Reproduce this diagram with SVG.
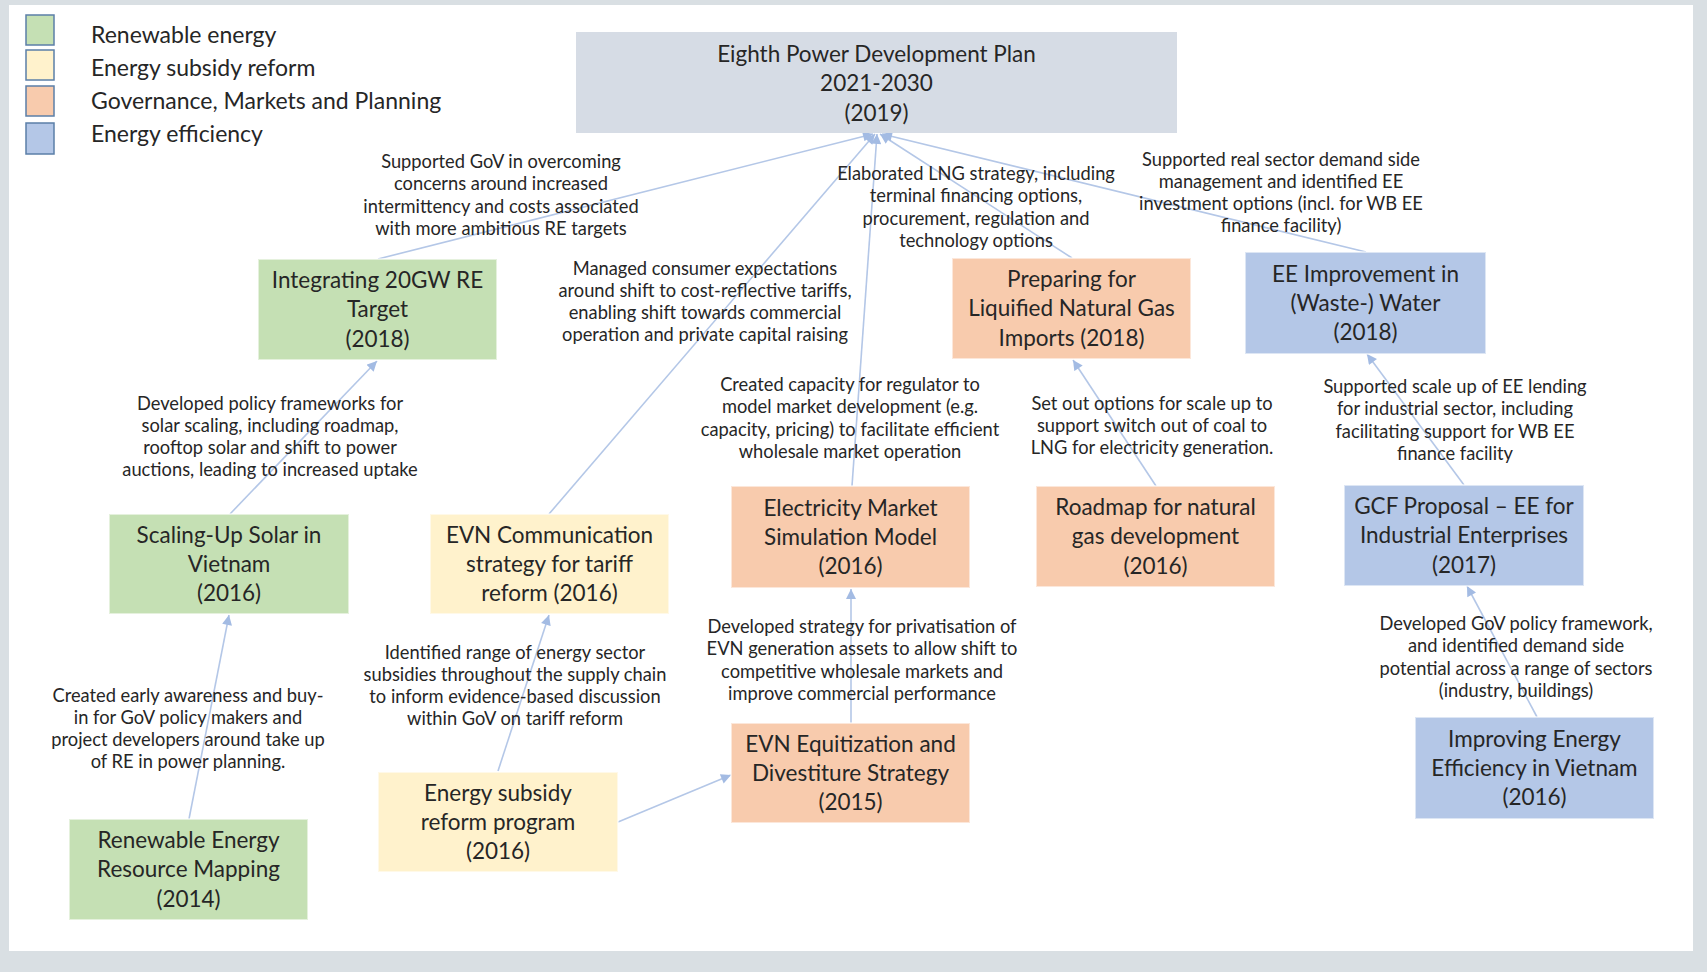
<svg xmlns="http://www.w3.org/2000/svg" width="1707" height="972" viewBox="0 0 1707 972">
<defs>
<style>
.nt{font-family:Lato,"Open Sans","Liberation Sans",sans-serif;font-size:22.5px;fill:#262626;text-anchor:middle}
.lt{font-family:Lato,"Open Sans","Liberation Sans",sans-serif;font-size:18.3px;fill:#262626;text-anchor:middle}
.lg{font-family:Lato,"Open Sans","Liberation Sans",sans-serif;font-size:23px;fill:#262626}
.box{stroke:#ffffff;stroke-opacity:0.55;stroke-width:2}
.sq{stroke:#5b7fa8;stroke-width:1.5}
.re{fill:#c5e0b4}.es{fill:#fff2cc}.gm{fill:#f8cbad}.ee{fill:#b4c7e7}.top{fill:#d6dce5}
.c{stroke:#b4c7e7;stroke-width:1.6;fill:none;marker-end:url(#ah)}
</style>
<marker id="ah" viewBox="0 0 10 10" refX="10" refY="5" markerWidth="11" markerHeight="10" markerUnits="userSpaceOnUse" orient="auto">
<path d="M0,0 L10,5 L0,10 z" fill="#a3bbe3"/>
</marker>
</defs>
<rect x="0" y="0" width="1707" height="972" fill="#d9dfe3"/>
<rect x="9" y="5" width="1684" height="946" fill="#ffffff"/>

<g id="legend">
<rect class="sq re" x="26" y="15" width="28" height="30"/>
<rect class="sq es" x="26" y="50" width="28" height="30"/>
<rect class="sq gm" x="26" y="86" width="28" height="30"/>
<rect class="sq ee" x="26" y="123" width="28" height="31"/>
<text class="lg" x="91" y="43">Renewable energy</text>
<text class="lg" x="91" y="76">Energy subsidy reform</text>
<text class="lg" x="91" y="109">Governance, Markets and Planning</text>
<text class="lg" x="91" y="142">Energy efficiency</text>
</g>

<g id="connectors">
<line class="c" x1="378" y1="259" x2="873" y2="134"/>
<line class="c" x1="549" y1="514" x2="875" y2="134"/>
<line class="c" x1="852" y1="486" x2="877" y2="134"/>
<line class="c" x1="1072" y1="258" x2="880" y2="134"/>
<line class="c" x1="1366" y1="252" x2="882" y2="134"/>
<line class="c" x1="230" y1="514" x2="377" y2="361"/>
<line class="c" x1="189" y1="819" x2="229" y2="615"/>
<line class="c" x1="498" y1="771" x2="549" y2="615"/>
<line class="c" x1="618" y1="822" x2="731" y2="775"/>
<line class="c" x1="851" y1="723" x2="851" y2="589"/>
<line class="c" x1="1156" y1="486" x2="1073" y2="360"/>
<line class="c" x1="1464" y1="485" x2="1367" y2="354"/>
<line class="c" x1="1537" y1="717" x2="1467" y2="586"/>
</g>

<g id="labels">
<text class="lt" x="501" y="168"><tspan x="501">Supported GoV in overcoming</tspan><tspan x="501" dy="22.3">concerns around increased</tspan><tspan x="501" dy="22.3">intermittency and costs associated</tspan><tspan x="501" dy="22.3">with more ambitious RE targets</tspan></text>
<text class="lt" x="705" y="274.5"><tspan x="705">Managed consumer expectations</tspan><tspan x="705" dy="22.3">around shift to cost-reflective tariffs,</tspan><tspan x="705" dy="22.3">enabling shift towards commercial</tspan><tspan x="705" dy="22.3">operation and private capital raising</tspan></text>
<text class="lt" x="976" y="180"><tspan x="976">Elaborated LNG strategy, including</tspan><tspan x="976" dy="22.3">terminal financing options,</tspan><tspan x="976" dy="22.3">procurement, regulation and</tspan><tspan x="976" dy="22.3">technology options</tspan></text>
<text class="lt" x="1281" y="165.5"><tspan x="1281">Supported real sector demand side</tspan><tspan x="1281" dy="22.3">management and identified EE</tspan><tspan x="1281" dy="22.3">investment options (incl. for WB EE</tspan><tspan x="1281" dy="22.3">finance facility)</tspan></text>
<text class="lt" x="270" y="409.5"><tspan x="270">Developed policy frameworks for</tspan><tspan x="270" dy="22.3">solar scaling, including roadmap,</tspan><tspan x="270" dy="22.3">rooftop solar and shift to power</tspan><tspan x="270" dy="22.3">auctions, leading to increased uptake</tspan></text>
<text class="lt" x="850" y="391"><tspan x="850">Created capacity for regulator to</tspan><tspan x="850" dy="22.3">model market development (e.g.</tspan><tspan x="850" dy="22.3">capacity, pricing) to facilitate efficient</tspan><tspan x="850" dy="22.3">wholesale market operation</tspan></text>
<text class="lt" x="1152" y="409.5"><tspan x="1152">Set out options for scale up to</tspan><tspan x="1152" dy="22.3">support switch out of coal to</tspan><tspan x="1152" dy="22.3">LNG for electricity generation.</tspan></text>
<text class="lt" x="1455" y="393"><tspan x="1455">Supported scale up of EE lending</tspan><tspan x="1455" dy="22.3">for industrial sector, including</tspan><tspan x="1455" dy="22.3">facilitating support for WB EE</tspan><tspan x="1455" dy="22.3">finance facility</tspan></text>
<text class="lt" x="188" y="701.5"><tspan x="188">Created early awareness and buy-</tspan><tspan x="188" dy="22.3">in for GoV policy makers and</tspan><tspan x="188" dy="22.3">project developers around take up</tspan><tspan x="188" dy="22.3">of RE in power planning.</tspan></text>
<text class="lt" x="515" y="658.5"><tspan x="515">Identified range of energy sector</tspan><tspan x="515" dy="22.3">subsidies throughout the supply chain</tspan><tspan x="515" dy="22.3">to inform evidence-based discussion</tspan><tspan x="515" dy="22.3">within GoV on tariff reform</tspan></text>
<text class="lt" x="862" y="633"><tspan x="862">Developed strategy for privatisation of</tspan><tspan x="862" dy="22.3">EVN generation assets to allow shift to</tspan><tspan x="862" dy="22.3">competitive wholesale markets and</tspan><tspan x="862" dy="22.3">improve commercial performance</tspan></text>
<text class="lt" x="1516" y="630"><tspan x="1516">Developed GoV policy framework,</tspan><tspan x="1516" dy="22.3">and identified demand side</tspan><tspan x="1516" dy="22.3">potential across a range of sectors</tspan><tspan x="1516" dy="22.3">(industry, buildings)</tspan></text>
</g>

<g id="n-top">
<rect class="top" x="576" y="32" width="601" height="101"/>
<text class="nt" x="876.5" y="62"><tspan x="876.5">Eighth Power Development Plan</tspan><tspan x="876.5" dy="29.3">2021-2030</tspan><tspan x="876.5" dy="29.3">(2019)</tspan></text>
</g>
<g id="n-integrating">
<rect class="box re" x="258" y="259" width="239" height="101"/>
<text class="nt" x="377.5" y="288"><tspan x="377.5">Integrating 20GW RE</tspan><tspan x="377.5" dy="29.3">Target</tspan><tspan x="377.5" dy="29.3">(2018)</tspan></text>
</g>
<g id="n-scaling">
<rect class="box re" x="109" y="514" width="240" height="100"/>
<text class="nt" x="229" y="542.7"><tspan x="229">Scaling-Up Solar in</tspan><tspan x="229" dy="29.3">Vietnam</tspan><tspan x="229" dy="29.3">(2016)</tspan></text>
</g>
<g id="n-remapping">
<rect class="box re" x="69" y="819" width="239" height="101"/>
<text class="nt" x="188.5" y="848"><tspan x="188.5">Renewable Energy</tspan><tspan x="188.5" dy="29.3">Resource Mapping</tspan><tspan x="188.5" dy="29.3">(2014)</tspan></text>
</g>
<g id="n-evncomm">
<rect class="box es" x="430" y="514" width="239" height="100"/>
<text class="nt" x="549.5" y="542.7"><tspan x="549.5">EVN Communication</tspan><tspan x="549.5" dy="29.3">strategy for tariff</tspan><tspan x="549.5" dy="29.3">reform (2016)</tspan></text>
</g>
<g id="n-subsidy">
<rect class="box es" x="378" y="772" width="240" height="100"/>
<text class="nt" x="498" y="800.7"><tspan x="498">Energy subsidy</tspan><tspan x="498" dy="29.3">reform program</tspan><tspan x="498" dy="29.3">(2016)</tspan></text>
</g>
<g id="n-elecmarket">
<rect class="box gm" x="731" y="486" width="239" height="102"/>
<text class="nt" x="850.5" y="515.7"><tspan x="850.5">Electricity Market</tspan><tspan x="850.5" dy="29.3">Simulation Model</tspan><tspan x="850.5" dy="29.3">(2016)</tspan></text>
</g>
<g id="n-equitization">
<rect class="box gm" x="731" y="723" width="239" height="100"/>
<text class="nt" x="850.5" y="751.7"><tspan x="850.5">EVN Equitization and</tspan><tspan x="850.5" dy="29.3">Divestiture Strategy</tspan><tspan x="850.5" dy="29.3">(2015)</tspan></text>
</g>
<g id="n-lng">
<rect class="box gm" x="952" y="258" width="239" height="101"/>
<text class="nt" x="1071.5" y="287"><tspan x="1071.5">Preparing for</tspan><tspan x="1071.5" dy="29.3">Liquified Natural Gas</tspan><tspan x="1071.5" dy="29.3">Imports (2018)</tspan></text>
</g>
<g id="n-roadmap">
<rect class="box gm" x="1036" y="486" width="239" height="101"/>
<text class="nt" x="1155.5" y="515"><tspan x="1155.5">Roadmap for natural</tspan><tspan x="1155.5" dy="29.3">gas development</tspan><tspan x="1155.5" dy="29.3">(2016)</tspan></text>
</g>
<g id="n-eewater">
<rect class="box ee" x="1245" y="252" width="241" height="102"/>
<text class="nt" x="1365.5" y="281.7"><tspan x="1365.5">EE Improvement in</tspan><tspan x="1365.5" dy="29.3">(Waste-) Water</tspan><tspan x="1365.5" dy="29.3">(2018)</tspan></text>
</g>
<g id="n-gcf">
<rect class="box ee" x="1344" y="485" width="240" height="101"/>
<text class="nt" x="1464" y="514"><tspan x="1464">GCF Proposal – EE for</tspan><tspan x="1464" dy="29.3">Industrial Enterprises</tspan><tspan x="1464" dy="29.3">(2017)</tspan></text>
</g>
<g id="n-improving">
<rect class="box ee" x="1415" y="717" width="239" height="102"/>
<text class="nt" x="1534.5" y="746.7"><tspan x="1534.5">Improving Energy</tspan><tspan x="1534.5" dy="29.3">Efficiency in Vietnam</tspan><tspan x="1534.5" dy="29.3">(2016)</tspan></text>
</g>
</svg>
